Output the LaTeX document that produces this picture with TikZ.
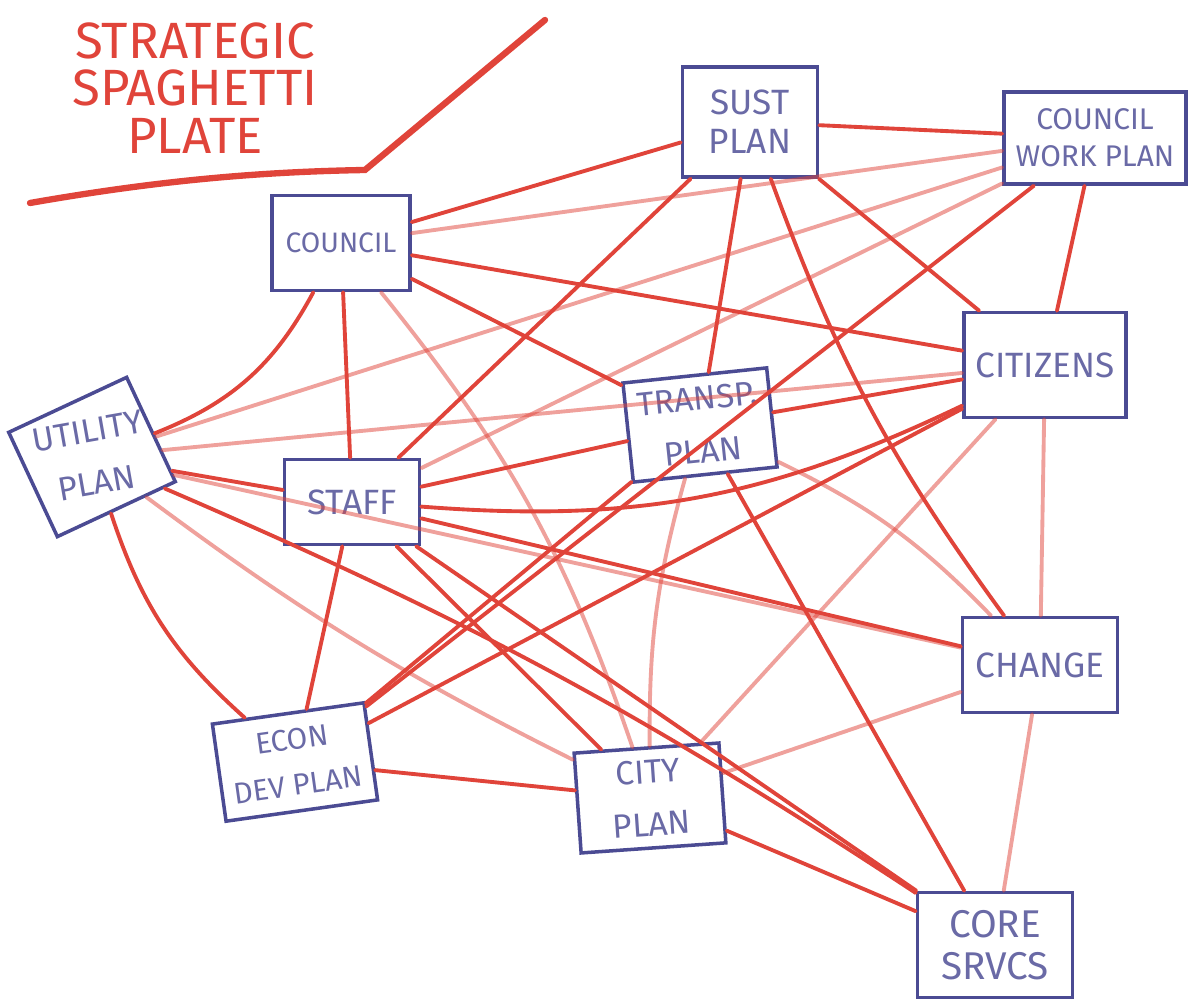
\documentclass[tikz,border=0pt]{standalone}
\usepackage{fontspec}
\setsansfont{Fira Sans}
\definecolor{pencilred}{HTML}{E0443A}
\definecolor{pencilblue}{HTML}{4B4B93}
\definecolor{pencilgrey}{HTML}{6A6AA6}
\tikzset{
	plan/.style={draw=pencilblue, line width=1pt, text=pencilgrey, align=center,
		font=\sffamily\fontsize{10}{11}\selectfont},
	tilted/.style={plan, font=\sffamily\fontsize{9.5}{15}\selectfont},
	spag/.style={draw=pencilred, line width=1.1pt, line cap=round},
	spaglight/.style={spag, draw opacity=.5},
	titletext/.style={text=pencilred, align=center, font=\sffamily\fontsize{14.5}{13.5}\selectfont},
}

\begin{document}
\begin{tikzpicture}[x=0.01cm, y=-0.01cm]
			%%%%% FRAME %%%%%
			\useasboundingbox (0, 0) rectangle (1188, 1007);
			
			%%%%% TITLE %%%%%
			\node[titletext] (title) at (195, 88) {STRATEGIC\\SPAGHETTI\\PLATE};
			\coordinate (ulstart) at (30, 203);
			\coordinate (ulknee) at (365, 170);
			\coordinate (ulend) at (545, 20);
			\draw[spag, line width=1.8pt] (ulstart) .. controls (150, 182) and (250, 172) .. (ulknee) -- (ulend);
			
			%%%%% PLANS %%%%%
			\node[plan, minimum width=1.38cm, minimum height=0.95cm, font=\sffamily\fontsize{8}{9}\selectfont] (council) at (341, 243) {COUNCIL};
			\node[plan, minimum width=1.35cm, minimum height=1.1cm] (sust) at (750, 122) {SUST\\PLAN};
			\node[plan, minimum width=1.48cm, minimum height=0.92cm, font=\sffamily\fontsize{8.5}{10.5}\selectfont] (cwork) at (1095, 138) {COUNCIL\\WORK PLAN};
			\node[plan, minimum width=1.55cm, minimum height=1.05cm] (citizens) at (1045, 365) {CITIZENS};
			\node[tilted, minimum width=1.4cm, minimum height=0.88cm, rotate=6] (transp) at (700, 425) {TRANSP.\\PLAN};
			\node[plan, minimum width=1.3cm, minimum height=1.15cm, rotate=25] (utility) at (92, 457) {};
			\node[tilted, draw=none, rotate=10] (utilitylabel) at (utility.center) {UTILITY\\PLAN};
			\node[plan, minimum width=1.35cm, minimum height=0.85cm] (staff) at (352, 502) {STAFF};
			\node[tilted, minimum width=1.22cm, minimum height=0.98cm, rotate=8, font=\sffamily\fontsize{8.5}{13}\selectfont] (econ) at (295, 762) {ECON\\DEV PLAN};
			\node[tilted, minimum width=1.45cm, minimum height=1cm, rotate=4] (city) at (650, 798) {CITY\\PLAN};
			\node[plan, minimum width=1.55cm, minimum height=0.95cm] (change) at (1040, 665) {CHANGE};
			\node[plan, minimum width=1.55cm, minimum height=1.05cm, font=\sffamily\fontsize{11}{12}\selectfont] (core) at (995, 945) {CORE\\SRVCS};
			
			%%%%% SPAGHETTI %%%%%
			\draw[spag] (council) -- (sust);
			\draw[spaglight] (council) -- (cwork);
			\draw[spag] (council) -- (citizens);
			\draw[spag] (council) -- (transp);
			\draw[spag] (council) -- (staff);
			\draw[spag] (council) to[bend left=20] (utility);
			\draw[spaglight] (council) to[bend left=10] (city);
			
			\draw[spag] (sust) -- (cwork);
			\draw[spag] (sust) -- (staff);
			\draw[spag] (sust) -- (transp);
			\draw[spag] (sust) -- (citizens);
			\draw[spag] (sust) to[bend right=8] (change);
			
			\draw[spag] (cwork) -- (citizens);
			\draw[spaglight] (cwork) -- (utility);
			\draw[spaglight] (cwork) -- (staff);
			\draw[spag] (cwork) -- (econ);
			
			\draw[spaglight] (citizens) -- (change);
			\draw[spaglight] (citizens) -- (utility);
			\draw[spag] (citizens) -- (transp);
			\draw[spag] (citizens) to[bend left=15] (staff);
			\draw[spaglight] (citizens) -- (city);
			\draw[spag] (citizens) -- (econ);
			
			\draw[spaglight] (transp) to[bend right=8] (city);
			\draw[spag] (transp) -- (core);
			\draw[spaglight] (transp) to[bend left=10] (change);
			\draw[spag] (transp) -- (econ);
			\draw[spag] (transp) -- (staff);
			
			\draw[spag] (staff) -- (change);
			\draw[spag] (staff) -- (core);
			\draw[spag] (staff) -- (econ);
			\draw[spag] (staff) -- (city);
			\draw[spag] (staff) -- (utility);
			
			\draw[spag] (utility) to[bend right=15] (econ);
			\draw[spaglight] (utility) -- (change);
			\draw[spaglight] (utility) to[bend right=5] (city);
			\draw[spag] (utility) to[bend left=5] (core);
			
			\draw[spag] (econ) -- (city);
			\draw[spaglight] (city) -- (change);
			\draw[spag] (city) -- (core);
			\draw[spaglight] (change) -- (core);
			
\end{tikzpicture}
\end{document}
